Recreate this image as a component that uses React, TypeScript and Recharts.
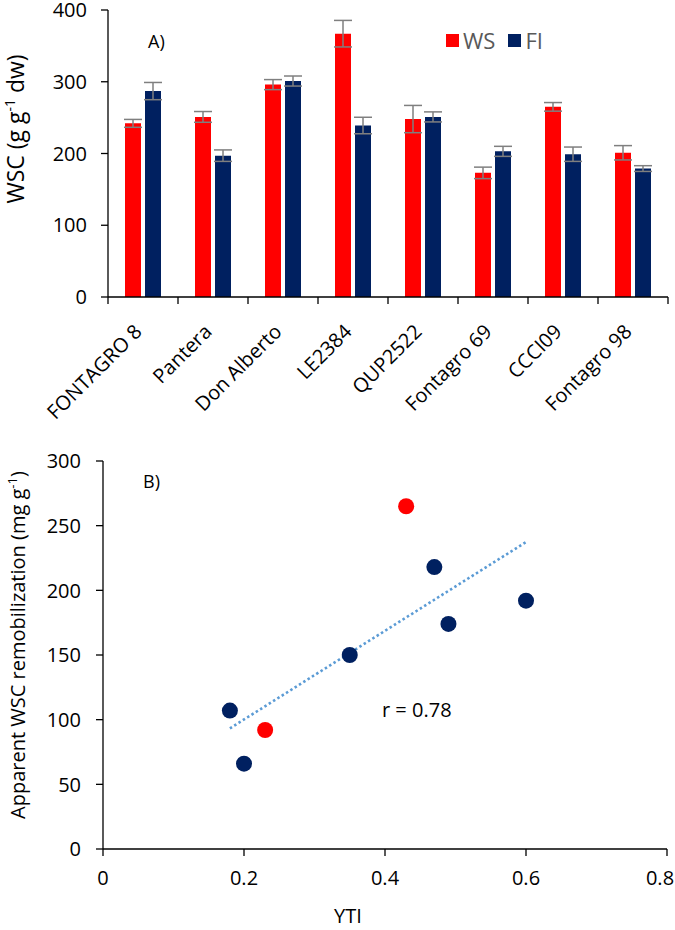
import {
  Bar,
  BarChart,
  ErrorBar,
  Legend,
  ReferenceLine,
  Scatter,
  ScatterChart,
  XAxis,
  YAxis,
} from "recharts";

// Panel A: WSC per cultivar, two treatments
const cultivars = ["FONTAGRO 8", "Pantera", "Don Alberto", "LE2384", "QUP2522", "Fontagro 69", "CCCI09", "Fontagro 98"];
const wsValues = [242, 251, 296, 367, 248, 173, 265, 201];
const wsErrors = [5.5, 7.5, 7, 18.5, 19, 8, 6, 10];
const fiValues = [287, 197, 301, 239, 251, 203, 199, 179];
const fiErrors = [12, 8, 7, 11.5, 7, 7, 10, 4];
const wscTicks = [0, 100, 200, 300, 400];

// Panel B: remobilization vs YTI
const ytiBlue = [0.18, 0.2, 0.35, 0.47, 0.49, 0.6];
const remobBlue = [107, 66, 150, 218, 174, 192];
const ytiRed = [0.23, 0.43];
const remobRed = [92, 265];
const ytiTicks = [0, 0.2, 0.4, 0.6, 0.8];
const remobTicks = [0, 50, 100, 150, 200, 250, 300];

const RED = "#FF0000";
const NAVY = "#002060";
const FONT = "'Open Sans', sans-serif";

const barData = cultivars.map((name, i) => ({
  name,
  WS: wsValues[i],
  wsErr: wsErrors[i],
  FI: fiValues[i],
  fiErr: fiErrors[i],
}));

const blueData = ytiBlue.map((x, i) => ({ yti: x, remob: remobBlue[i] }));
const redData = ytiRed.map((x, i) => ({ yti: x, remob: remobRed[i] }));

// least squares fit over all points for the dotted trend line
const allX = [...ytiBlue, ...ytiRed];
const allY = [...remobBlue, ...remobRed];
const mx = allX.reduce((a, b) => a + b, 0) / allX.length;
const my = allY.reduce((a, b) => a + b, 0) / allY.length;
let sxy = 0;
let sxx = 0;
allX.forEach((x, i) => {
  sxy += (x - mx) * (allY[i] - my);
  sxx += (x - mx) * (x - mx);
});
const slope = sxy / sxx;
const x0 = Math.min(...allX);
const x1 = Math.max(...allX);
const trend = [
  { x: x0, y: my + slope * (x0 - mx) },
  { x: x1, y: my + slope * (x1 - mx) },
];

const TOP_W = 675;
const TOP_LEFT = 108;
const TOP_RIGHT = 7;
const band = (TOP_W - TOP_LEFT - TOP_RIGHT) / cultivars.length;

const CultivarTick = ({ x, y, payload, index }: any) => {
  const tx = x;
  const ty = y + 36;
  return (
    <g>
      <line x1={x - band / 2} y1={y} x2={x - band / 2} y2={y + 7} stroke="#000" strokeWidth={1.3} />
      {index === cultivars.length - 1 && (
        <line x1={x + band / 2} y1={y} x2={x + band / 2} y2={y + 7} stroke="#000" strokeWidth={1.3} />
      )}
      <text
        x={tx}
        y={ty}
        textAnchor="end"
        transform={`rotate(-45, ${tx}, ${ty})`}
        fontFamily={FONT}
        fontSize={20}
        fill="#000"
      >
        {payload.value}
      </text>
    </g>
  );
};

const LeftTick = ({ x, y, payload }: any) => (
  <text x={x} y={y} dy="0.36em" textAnchor="end" fontFamily={FONT} fontSize={20} fill="#000">
    {payload.value}
  </text>
);

const BottomTick = ({ x, y, payload }: any) => (
  <text
    x={Math.min(x, 675 - 15)}
    y={y}
    dy="0.71em"
    textAnchor="middle"
    fontFamily={FONT}
    fontSize={20}
    fill="#000"
  >
    {payload.value}
  </text>
);

const BarLegend = () => (
  <div style={{ display: "flex", alignItems: "center", fontFamily: FONT, fontSize: 22, color: "#595959" }}>
    <span style={{ width: 13, height: 13, background: RED, display: "inline-block", marginRight: 4 }} />
    <span style={{ marginRight: 13 }}>WS</span>
    <span style={{ width: 13, height: 13, background: NAVY, display: "inline-block", marginRight: 4 }} />
    <span>FI</span>
  </div>
);

const axisStroke = { stroke: "#000", strokeWidth: 1.3 };

export default function App() {
  return (
    <div style={{ position: "absolute", left: 0, top: 0, width: 675, height: 930, background: "#fff" }}>
      <BarChart
        width={TOP_W}
        height={445}
        data={barData}
        margin={{ top: 10, right: TOP_RIGHT, bottom: 0, left: 0 }}
        barSize={16}
        barGap={4}
      >
        <XAxis
          dataKey="name"
          height={148}
          interval={0}
          tickLine={false}
          tickSize={0}
          tickMargin={0}
          axisLine={axisStroke}
          tick={<CultivarTick />}
        />
        <YAxis
          width={TOP_LEFT}
          domain={[0, 400]}
          ticks={wscTicks}
          interval={0}
          tickSize={7}
          tickMargin={14}
          axisLine={axisStroke}
          tickLine={axisStroke}
          tick={<LeftTick />}
        />
        <Legend
          layout="vertical"
          align="center"
          verticalAlign="middle"
          content={<BarLegend />}
          wrapperStyle={{ left: 446, top: 25, width: 120 }}
        />
        <Bar dataKey="WS" fill={RED} isAnimationActive={false}>
          <ErrorBar dataKey="wsErr" width={9} stroke="#7f7f7f" strokeWidth={1.5} />
        </Bar>
        <Bar dataKey="FI" fill={NAVY} isAnimationActive={false}>
          <ErrorBar dataKey="fiErr" width={9} stroke="#7f7f7f" strokeWidth={1.5} />
        </Bar>
        <text x={148} y={48} fontFamily={FONT} fontSize={18} fill="#000">
          A)
        </text>
        <text
          x={24}
          y={129}
          transform="rotate(-90, 24, 129)"
          textAnchor="middle"
          fontFamily={FONT}
          fontSize={23}
          fill="#000"
        >
          WSC (g g<tspan fontSize={14} dy={-9}>-1</tspan>
          <tspan dy={9}> dw)</tspan>
        </text>
      </BarChart>

      <ScatterChart width={675} height={485} margin={{ top: 16, right: 8, bottom: 0, left: 0 }}>
        <XAxis
          type="number"
          dataKey="yti"
          domain={[0, 0.8]}
          ticks={ytiTicks}
          interval={0}
          height={81}
          tickSize={7}
          tickMargin={15}
          axisLine={axisStroke}
          tickLine={axisStroke}
          tick={<BottomTick />}
        />
        <YAxis
          type="number"
          dataKey="remob"
          domain={[0, 300]}
          ticks={remobTicks}
          interval={0}
          width={103}
          tickSize={7}
          tickMargin={15}
          axisLine={axisStroke}
          tickLine={axisStroke}
          tick={<LeftTick />}
        />
        <ReferenceLine
          segment={trend}
          stroke="#5B9BD5"
          strokeWidth={2.6}
          strokeDasharray="2.5 2.6"
        />
        <Scatter
          data={blueData}
          isAnimationActive={false}
          shape={(p: any) => <circle cx={p.cx} cy={p.cy} r={8} fill={NAVY} />}
        />
        <Scatter
          data={redData}
          isAnimationActive={false}
          shape={(p: any) => <circle cx={p.cx} cy={p.cy} r={8} fill={RED} />}
        />
        <text x={143} y={43} fontFamily={FONT} fontSize={18} fill="#000">
          B)
        </text>
        <text x={382} y={272} fontFamily={FONT} fontSize={20} fill="#000">
          r = 0.78
        </text>
        <text x={348} y={478} textAnchor="middle" fontFamily={FONT} fontSize={20} fill="#000">
          YTI
        </text>
        <text
          x={25}
          y={200}
          transform="rotate(-90, 25, 200)"
          textAnchor="middle"
          fontFamily={FONT}
          fontSize={20}
          fill="#000"
        >
          Apparent WSC remobilization (mg g<tspan fontSize={13} dy={-8}>-1</tspan>
          <tspan dy={8}>)</tspan>
        </text>
      </ScatterChart>
    </div>
  );
}
